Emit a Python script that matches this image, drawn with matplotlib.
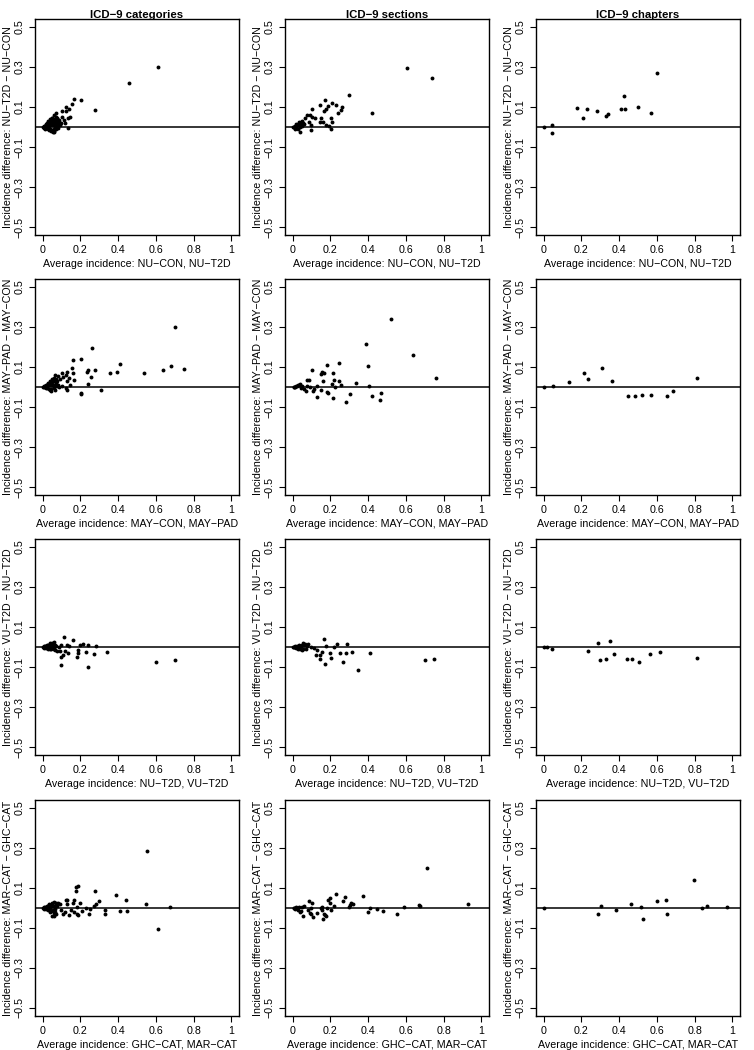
import numpy as np
import matplotlib
matplotlib.use("Agg")
import matplotlib.pyplot as plt

plt.rcParams['font.family'] = ['Liberation Sans', 'DejaVu Sans']

# ---------- data ----------
# row 1: NU-T2D vs NU-CON
nu_cat_x = [0.61, 0.46, 0.276, 0.206, 0.166, 0.154, 0.14, 0.143, 0.136, 0.136, 0.124, 0.122, 0.105, 0.114,
            0.119, 0.096, 0.103, 0.073, 0.061, 0.072, 0.079, 0.052, 0.087, 0.07, 0.058, 0.044,
            0.000, 0.005, 0.008, 0.010, 0.012, 0.015, 0.018, 0.020, 0.022, 0.025, 0.027, 0.030, 0.032, 0.035,
            0.038, 0.040, 0.042, 0.045, 0.048, 0.050, 0.052, 0.055, 0.058, 0.060, 0.062, 0.065, 0.068, 0.070,
            0.075, 0.078, 0.080, 0.085, 0.088, 0.090, 0.015, 0.025, 0.035, 0.045, 0.055, 0.030, 0.040, 0.050,
            0.060, 0.020, 0.070]
nu_cat_y = [0.30, 0.222, 0.086, 0.137, 0.14, 0.113, 0.09, 0.052, 0.045, -0.003, 0.10, 0.08, 0.081, 0.035,
            0.022, 0.019, 0.049, 0.071, 0.061, 0.052, 0.04, 0.044, 0.027, 0.019, -0.024, -0.015,
            0.000, 0.002, -0.003, 0.004, 0.000, 0.006, -0.005, 0.010, 0.003, 0.012, -0.008, 0.015, 0.005, 0.020,
            -0.010, 0.025, 0.008, 0.030, -0.015, 0.018, 0.035, 0.010, -0.012, 0.028, 0.040, 0.005, 0.022, 0.030,
            0.012, 0.045, -0.005, 0.015, 0.035, 0.008, -0.008, 0.022, -0.015, -0.020, -0.025, 0.030, 0.038, 0.045,
            -0.018, 0.015, -0.010]

nu_sec_x = [0.605, 0.74, 0.42, 0.30, 0.263, 0.258, 0.24, 0.231, 0.21, 0.187, 0.17, 0.175, 0.165, 0.147, 0.105,
            0.152, 0.144, 0.161, 0.179, 0.191, 0.203, 0.205, 0.207, 0.117, 0.105, 0.091, 0.077, 0.065, 0.088,
            0.096, 0.095, 0.039, 0.000, 0.005, 0.010, 0.015, 0.020, 0.025, 0.030, 0.035, 0.040, 0.045, 0.050,
            0.055, 0.060, 0.012, 0.022, 0.032, 0.042, 0.052, 0.028, 0.018, 0.048]
nu_sec_y = [0.296, 0.245, 0.069, 0.16, 0.099, 0.086, 0.072, 0.111, 0.119, 0.106, 0.136, 0.089, 0.081, 0.111, 0.09,
            0.044, 0.027, 0.027, 0.01, 0.005, -0.012, 0.044, 0.024, 0.044, 0.05, 0.062, 0.062, 0.044, 0.027,
            0.01, -0.015, -0.024, 0.000, 0.002, 0.000, 0.005, -0.005, 0.008, 0.012, 0.018, 0.010, 0.025, 0.030,
            0.020, 0.015, -0.008, 0.010, 0.025, 0.000, 0.005, -0.010, 0.015, 0.020]

nu_chap_x = [0.0, 0.047, 0.047, 0.175, 0.207, 0.232, 0.281, 0.33, 0.342, 0.412, 0.425, 0.432, 0.498, 0.568, 0.598]
nu_chap_y = [0.0, 0.008, -0.03, 0.094, 0.044, 0.089, 0.081, 0.057, 0.066, 0.089, 0.157, 0.091, 0.10, 0.071, 0.27]

# row 2: MAY-PAD vs MAY-CON
may_cat_x = [0.703, 0.262, 0.201, 0.163, 0.411, 0.678, 0.748, 0.638, 0.537, 0.393, 0.358, 0.28, 0.24, 0.233,
             0.257, 0.241, 0.206, 0.201, 0.309, 0.166, 0.163, 0.157, 0.131, 0.14, 0.122, 0.101, 0.11, 0.093,
             0.128, 0.143, 0.122, 0.105, 0.084, 0.131,
             0.000, 0.005, 0.010, 0.015, 0.020, 0.025, 0.030, 0.035, 0.040, 0.045, 0.050, 0.055, 0.060, 0.065,
             0.070, 0.075, 0.080, 0.012, 0.022, 0.032, 0.042, 0.052, 0.062, 0.072, 0.028, 0.038, 0.048, 0.058,
             0.068, 0.078, 0.088, 0.018, 0.044, 0.064]
may_cat_y = [0.301, 0.195, 0.139, 0.133, 0.116, 0.106, 0.089, 0.086, 0.069, 0.076, 0.072, 0.086, 0.086, 0.077,
             0.052, 0.015, -0.032, -0.037, -0.015, 0.035, 0.069, 0.094, 0.077, 0.044, 0.061, 0.069, 0.052, 0.039,
             0.032, 0.01, -0.007, 0.005, 0.01, -0.015,
             0.000, 0.003, -0.002, 0.006, 0.010, -0.005, 0.015, 0.008, 0.020, -0.010, 0.025, 0.012, 0.030, -0.015,
             0.040, 0.005, 0.055, 0.002, 0.012, -0.008, 0.030, 0.040, -0.005, 0.020, 0.022, -0.015, 0.008, 0.045,
             0.010, 0.030, 0.000, -0.004, -0.020, 0.060]

may_sec_x = [0.52, 0.39, 0.635, 0.76, 0.40, 0.405, 0.42, 0.465, 0.47, 0.335, 0.305, 0.285, 0.255, 0.245, 0.245,
             0.225, 0.22, 0.215, 0.21, 0.215, 0.19, 0.18, 0.18, 0.165, 0.16, 0.155, 0.15, 0.15, 0.13, 0.13,
             0.115, 0.11, 0.105, 0.09, 0.085, 0.075, 0.075, 0.07, 0.06, 0.05, 0.045, 0.04, 0.035, 0.03, 0.025,
             0.02, 0.015, 0.01, 0.005]
may_sec_y = [0.34, 0.215, 0.16, 0.045, 0.105, 0.005, -0.045, -0.065, -0.03, 0.02, -0.035, -0.075, 0.01, 0.12, 0.03,
             0.0, 0.035, 0.07, 0.015, -0.055, -0.03, -0.025, 0.11, 0.068, 0.03, 0.075, 0.065, -0.015, 0.005, -0.05,
             -0.01, -0.02, 0.085, 0.0, 0.035, 0.035, 0.005, -0.02, -0.01, 0.005, -0.005, 0.015, 0.01, 0.008, 0.005,
             0.003, 0.002, 0.0, 0.0]

may_chap_x = [0.0, 0.05, 0.133, 0.212, 0.237, 0.309, 0.36, 0.449, 0.482, 0.519, 0.568, 0.653, 0.684, 0.814]
may_chap_y = [0.0, 0.003, 0.025, 0.07, 0.04, 0.093, 0.029, -0.045, -0.046, -0.04, -0.04, -0.045, -0.02, 0.046]

# row 3: VU-T2D vs NU-T2D
vu_cat_x = [0.60, 0.70, 0.24, 0.10, 0.34, 0.27, 0.285, 0.24, 0.23, 0.215, 0.20, 0.19, 0.18, 0.19, 0.16, 0.115,
            0.14, 0.135, 0.12, 0.13, 0.11, 0.10, 0.10, 0.09, 0.085, 0.075, 0.06,
            0.000, 0.005, 0.010, 0.015, 0.020, 0.025, 0.030, 0.035, 0.040, 0.045, 0.050, 0.055, 0.060, 0.065,
            0.070, 0.012, 0.022, 0.032, 0.042, 0.052, 0.062, 0.028, 0.038, 0.048, 0.058, 0.068, 0.018, 0.044]
vu_cat_y = [-0.075, -0.065, -0.10, -0.09, -0.025, -0.035, 0.005, 0.01, -0.025, 0.015, 0.01, -0.03, -0.05, -0.015,
            0.035, 0.05, 0.005, -0.03, -0.02, 0.01, -0.04, -0.05, 0.01, -0.02, 0.0, -0.02, 0.025,
            0.000, 0.003, -0.003, 0.005, -0.005, 0.010, -0.008, 0.012, 0.002, -0.012, 0.015, -0.005, 0.008, -0.015,
            0.005, 0.001, -0.002, 0.006, -0.010, 0.018, -0.008, 0.010, 0.020, 0.000, -0.012, 0.012, 0.004, -0.006]

vu_sec_x = [0.70, 0.75, 0.345, 0.266, 0.17, 0.41, 0.287, 0.315, 0.284, 0.235, 0.249, 0.196, 0.205, 0.217, 0.166,
            0.179, 0.158, 0.144, 0.147, 0.123, 0.131, 0.10, 0.112, 0.082, 0.065, 0.056,
            0.000, 0.005, 0.010, 0.015, 0.020, 0.025, 0.030, 0.035, 0.040, 0.045, 0.050, 0.055, 0.060, 0.070,
            0.075, 0.018, 0.028, 0.038, 0.048]
vu_sec_y = [-0.067, -0.06, -0.116, -0.077, -0.087, -0.029, 0.015, -0.025, -0.03, 0.015, -0.03, -0.03, -0.057, 0.0,
            0.04, 0.005, -0.027, -0.04, -0.062, -0.04, -0.015, 0.002, -0.007, 0.013, 0.015, 0.022,
            0.000, 0.002, -0.002, 0.004, -0.004, 0.006, -0.006, 0.010, -0.010, 0.005, 0.012, -0.008, 0.008, -0.010,
            0.005, 0.000, -0.012, 0.003, -0.015]

vu_chap_x = [0.004, 0.019, 0.047, 0.233, 0.289, 0.298, 0.33, 0.351, 0.374, 0.442, 0.468, 0.507, 0.565, 0.618, 0.814]
vu_chap_y = [0.0, 0.0, -0.01, -0.02, 0.02, -0.065, -0.058, 0.03, -0.037, -0.058, -0.058, -0.077, -0.035, -0.027, -0.055]

# row 4: MAR-CAT vs GHC-CAT
ghc_cat_x = [0.555, 0.61, 0.675, 0.55, 0.44, 0.445, 0.41, 0.39, 0.33, 0.33, 0.30, 0.285, 0.275, 0.27, 0.25, 0.245,
             0.23, 0.21, 0.20, 0.185, 0.175, 0.175, 0.19, 0.18, 0.18, 0.165, 0.16, 0.165, 0.15, 0.14, 0.13,
             0.125, 0.13, 0.12, 0.11, 0.10, 0.09, 0.08, 0.07, 0.06, 0.05,
             0.000, 0.005, 0.010, 0.015, 0.020, 0.025, 0.030, 0.035, 0.040, 0.045, 0.050, 0.055, 0.060, 0.065,
             0.070, 0.075, 0.012, 0.022, 0.032, 0.042, 0.052, 0.062, 0.072, 0.028, 0.038, 0.048, 0.058, 0.068]
ghc_cat_y = [0.285, -0.105, 0.005, 0.02, 0.04, -0.015, -0.015, 0.065, -0.01, -0.03, 0.035, 0.02, 0.085, 0.01,
             -0.005, -0.03, 0.0, -0.015, 0.025, 0.11, 0.105, 0.085, -0.035, -0.03, 0.005, 0.04, 0.025, -0.02,
             -0.01, -0.035, 0.04, 0.04, 0.02, -0.02, -0.03, -0.01, 0.02, 0.025, -0.03, -0.04, -0.04,
             0.000, 0.003, -0.003, 0.006, -0.006, 0.010, -0.010, 0.015, 0.005, -0.015, 0.020, -0.008, 0.012, -0.020,
             0.025, 0.008, 0.001, -0.002, 0.020, -0.012, 0.025, -0.025, 0.015, 0.012, -0.018, 0.008, 0.030, -0.005]

ghc_sec_x = [0.71, 0.93, 0.675, 0.67, 0.59, 0.555, 0.48, 0.445, 0.41, 0.40, 0.375, 0.32, 0.31, 0.305, 0.30, 0.275,
             0.265, 0.23, 0.22, 0.205, 0.20, 0.20, 0.185, 0.18, 0.175, 0.17, 0.165, 0.16, 0.155, 0.155, 0.15,
             0.13, 0.11, 0.105, 0.10, 0.095, 0.09, 0.085, 0.08, 0.06, 0.055, 0.05, 0.045, 0.04, 0.035, 0.03,
             0.025, 0.02, 0.015, 0.01, 0.005]
ghc_sec_y = [0.20, 0.02, 0.01, 0.015, 0.005, -0.03, -0.015, -0.005, 0.0, -0.02, 0.06, 0.02, 0.025, 0.015, 0.005,
             0.055, 0.035, 0.07, 0.01, -0.01, 0.05, 0.025, 0.04, 0.0, -0.04, -0.035, -0.03, -0.055, -0.01, 0.005,
             0.0, -0.025, -0.045, 0.025, -0.03, 0.0, -0.025, 0.035, -0.01, 0.01, -0.04, 0.005, -0.015, -0.02,
             0.005, -0.01, 0.0, 0.003, -0.003, 0.0, 0.0]

ghc_chap_x = [0.0, 0.29, 0.305, 0.384, 0.461, 0.516, 0.525, 0.60, 0.649, 0.654, 0.795, 0.84, 0.867, 0.972]
ghc_chap_y = [0.0, -0.03, 0.012, -0.012, 0.02, 0.005, -0.055, 0.033, 0.038, -0.03, 0.14, -0.002, 0.008, 0.005]

col_titles = ["ICD\u22129 categories", "ICD\u22129 sections", "ICD\u22129 chapters"]
row_ylabels = ["Incidence difference: NU\u2212T2D \u2212 NU\u2212CON",
               "Incidence difference: MAY\u2212PAD \u2212 MAY\u2212CON",
               "Incidence difference: VU\u2212T2D \u2212 NU\u2212T2D",
               "Incidence difference: MAR\u2212CAT \u2212 GHC\u2212CAT"]
row_xlabels = ["Average incidence: NU\u2212CON, NU\u2212T2D",
               "Average incidence: MAY\u2212CON, MAY\u2212PAD",
               "Average incidence: NU\u2212T2D, VU\u2212T2D",
               "Average incidence: GHC\u2212CAT, MAR\u2212CAT"]
x_ticks = [0, 0.2, 0.4, 0.6, 0.8, 1]
x_ticklabels = ["0", "0.2", "0.4", "0.6", "0.8", "1"]
y_ticks = [-0.5, -0.3, -0.1, 0.1, 0.3, 0.5]
y_ticklabels = ["\u22120.5", "\u22120.3", "\u22120.1", "0.1", "0.3", "0.5"]

panels = [
    [(nu_cat_x, nu_cat_y), (nu_sec_x, nu_sec_y), (nu_chap_x, nu_chap_y)],
    [(may_cat_x, may_cat_y), (may_sec_x, may_sec_y), (may_chap_x, may_chap_y)],
    [(vu_cat_x, vu_cat_y), (vu_sec_x, vu_sec_y), (vu_chap_x, vu_chap_y)],
    [(ghc_cat_x, ghc_cat_y), (ghc_sec_x, ghc_sec_y), (ghc_chap_x, ghc_chap_y)],
]

# ---------- layout in pixels ----------
W, H = 754, 1050
col_left = [35, 285, 536]
row_top = [19, 279, 539, 800]
aw, ah = 204, 216
fs = 7.7

fig = plt.figure(figsize=(W / 100, H / 100), dpi=100)

for r in range(4):
    for c in range(3):
        ax = fig.add_axes([col_left[c] / W, 1 - (row_top[r] + ah) / H, aw / W, ah / H])
        xs, ys = panels[r][c]
        ax.plot(xs, ys, 'o', color='black', ms=2.8, mew=0)
        ax.axhline(0, color='black', lw=1.1)
        ax.set_xlim(-0.04, 1.04)
        ax.set_ylim(-0.54, 0.54)
        ax.set_xticks(x_ticks)
        ax.set_xticklabels(x_ticklabels)
        ax.set_yticks(y_ticks)
        ax.set_yticklabels(y_ticklabels, rotation=90, va='center')
        ax.tick_params(direction='out', length=4.5, width=0.8, labelsize=fs, pad=3)
        for s in ax.spines.values():
            s.set_linewidth(1.0)
        ax.set_xlabel(row_xlabels[r], fontsize=fs, va='center')
        ax.xaxis.set_label_coords(0.5, -29 / ah)
        ax.set_ylabel(row_ylabels[r], fontsize=fs, va='center')
        ax.yaxis.set_label_coords(-27 / aw, 0.5)
        if r == 0:
            fig.text((col_left[c] + aw / 2) / W, 1 - 18 / H, col_titles[c],
                     ha='center', va='baseline', fontsize=8.2, fontweight='bold')

fig.savefig("out.png", dpi=100)
